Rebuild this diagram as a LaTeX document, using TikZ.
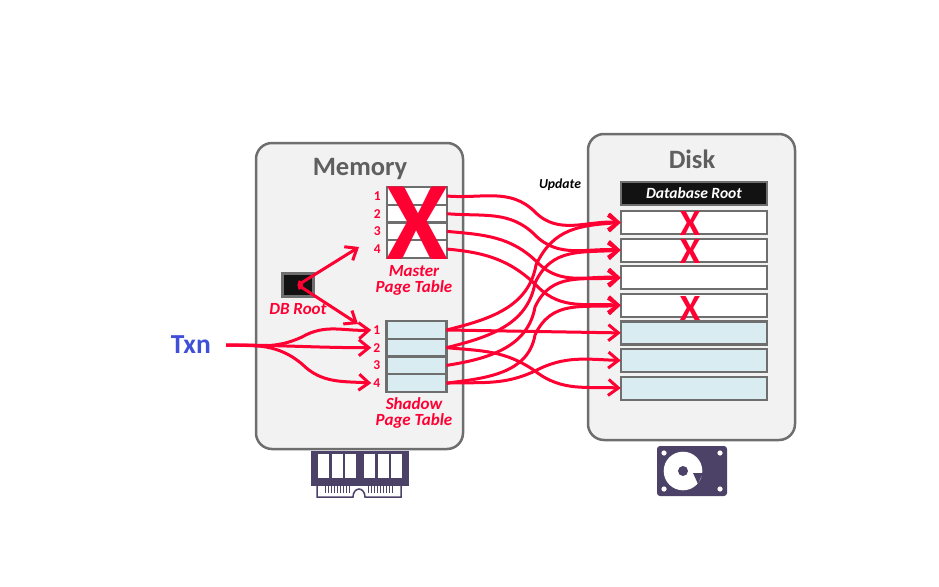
\documentclass[tikz,border=0pt]{standalone}
\usepackage{fontspec}
\setmainfont{Carlito}
\usetikzlibrary{arrows.meta, positioning}
\definecolor{pgred}{HTML}{FF0033}
\definecolor{pggray}{HTML}{6E6E6E}
\definecolor{pgtitle}{HTML}{5F5F5F}
\definecolor{pgblue}{HTML}{D8ECF2}
\definecolor{pgicon}{HTML}{4C4267}
\definecolor{pgtxn}{HTML}{3F4FD8}
\tikzset{
  pgarrow/.style={draw=pgred, line width=3pt, -{Straight Barb[length=10pt, width=16pt, line width=3pt]}},
  rootarrow/.style={pgarrow, {Circle[length=6pt]}-{Straight Barb[length=10pt, width=16pt, line width=3pt]}},
  pgbox/.style={draw=pggray, line width=2.5pt, fill=black!5, rounded corners=16pt, minimum width=207pt, minimum height=306pt, outer sep=0pt},
  pgtitlenode/.style={text=pgtitle, font=\fontsize{26.5}{26.5}\selectfont\bfseries},
  pgrow/.style={draw=pggray, line width=2.2pt, fill=white, minimum width=60pt, minimum height=17.7pt, inner sep=0pt, outer sep=0pt},
  pgshadow/.style={pgrow, fill=pgblue},
  diskrow/.style={pgrow, minimum width=146.5pt, minimum height=23pt},
  diskshadow/.style={diskrow, fill=pgblue},
  pgnum/.style={text=pgred, inner sep=2pt, font=\fontsize{13.5}{13.5}\selectfont\bfseries},
  pglabel/.style={text=pgred, align=center, inner sep=0pt, font=\fontsize{17}{16}\selectfont\bfseries\itshape},
  bigx/.style={text=pgred, inner sep=0pt, font=\fontsize{37}{37}\selectfont\bfseries},
}

\begin{document}
\begin{tikzpicture}[x=1pt, y=-1pt]
  \useasboundingbox (0,0) rectangle (939,586);

  % Containers.
  \node[pgbox] (memory) at (359.5,296) {};
  \node[pgbox] (disk) at (691.5,287) {};
  \node[pgtitlenode] (memtitle) at (360,169) {Memory};
  \node[pgtitlenode] (disktitle) at (692,159) {Disk};

  % Master page table.
  \node[pgrow] (m1) at (417,196) {};
  \node[pgrow, below=0pt of m1] (m2) {};
  \node[pgrow, below=0pt of m2] (m3) {};
  \node[pgrow, below=0pt of m3] (m4) {};
  \node[pgnum, left=4pt of m1] (mn1) {1};
  \node[pgnum, left=4pt of m2] (mn2) {2};
  \node[pgnum, left=4pt of m3] (mn3) {3};
  \node[pgnum, left=4pt of m4] (mn4) {4};
  \node[pglabel] (mlabel) at (414,280) {Master\\Page Table};

  % Shadow page table.
  \node[pgshadow] (s1) at (416.5,330) {};
  \node[pgshadow, below=0pt of s1] (s2) {};
  \node[pgshadow, below=0pt of s2] (s3) {};
  \node[pgshadow, below=0pt of s3] (s4) {};
  \node[pgnum, left=4pt of s1] (sn1) {1};
  \node[pgnum, left=4pt of s2] (sn2) {2};
  \node[pgnum, left=4pt of s3] (sn3) {3};
  \node[pgnum, left=4pt of s4] (sn4) {4};
  \node[pglabel] (slabel) at (414,413) {Shadow\\Page Table};

  % DB root.
  \node[draw=pggray, line width=2.4pt, fill=black!93, minimum width=31pt, minimum height=23pt, inner sep=0pt] (dbroot) at (298,285) {};
  \node[pglabel] (dblabel) at (298,309) {DB Root};

  % Disk pages.
  \node[diskrow, fill=black!93, text=white, font=\fontsize{15.6}{15.6}\selectfont\bfseries\itshape] (d0) at (694,193.5) {Database Root};
  \node[diskrow] (d1) at (694,222.5) {};
  \node[diskrow, below=4.6pt of d1] (d2) {};
  \node[diskrow, below=4.6pt of d2] (d3) {};
  \node[diskrow, below=4.6pt of d3] (d4) {};
  \node[diskshadow, below=4.6pt of d4] (d5) {};
  \node[diskshadow, below=4.6pt of d5] (d6) {};
  \node[diskshadow, below=4.6pt of d6] (d7) {};
  \node[font=\fontsize{13.7}{13.7}\selectfont\bfseries\itshape] (update) at (560,185) {Update};

  % Txn.
  \node[text=pgtxn, inner xsep=15pt, anchor=east, font=\fontsize{27.5}{27.5}\selectfont\bfseries] (txn) at (226,345) {Txn};

  % Kinks where the curves change direction.
  \coordinate (k1) at (535,212);
  \coordinate (k2) at (535,235);
  \coordinate (k3) at (538,263);
  \coordinate (k4) at (538,287);
  \coordinate (k5) at (536,265);
  \coordinate (k6) at (535,283);
  \coordinate (k7) at (535,307);
  \coordinate (k8) at (535,335);
  \coordinate (k9) at (535,371);
  \coordinate (k10) at (302,337);
  \coordinate (k11) at (302,364);
  \coordinate (rootm) at (359,247);
  \coordinate (roots) at (358,324);

  % Edges.
  \foreach \src/\knk/\dst in {m1/k1/d1, m2/k2/d2, m3/k3/d3, m4/k4/d4}
    \draw[pgarrow] (\src.east) to[out=-5, in=135] (\knk) to[out=-45, in=176] (\dst.west);
  \foreach \src/\knk/\dst/\ang in {s1/k5/d1/14, s2/k6/d2/14, s3/k7/d3/9, s4/k8/d4/7}
    \draw[pgarrow] (\src.east) to[out=\ang, in=-100] (\knk) to[out=65, in=184, looseness=1.1] (\dst.west);
  \draw[pgarrow] (s1.east) -- (d5.west);
  \draw[pgarrow] (s4.east) to[out=2, in=-155] (k9) to[out=28, in=178] (d6.west);
  \draw[pgarrow] (s2.east) to[out=-5, in=145] (k9) to[out=-38, in=177] (d7.west);

  \draw[pgarrow] (txn.east) to[out=0, in=-155] (k10) to[out=30, in=183] (sn1.west);
  \draw[pgarrow] (txn.east) to[out=0, in=180] (sn2.west);
  \draw[pgarrow] (txn.east) to[out=0, in=140] (k11) to[out=-45, in=176] (sn4.west);
  \draw[rootarrow] (dbroot.center) -- (rootm);
  \draw[rootarrow] (dbroot.center) -- (roots);

  % Crosses.
  \node[bigx, font=\fontsize{112}{112}\selectfont\bfseries] (mx) at (417,223) {X};
  \node[bigx] (x1) at (690,224) {X};
  \node[bigx] (x2) at (690,252) {X};
  \node[bigx] (x4) at (690,308) {X};

  % Memory icon.
  \fill[pgicon] (311,451) rectangle (409,486);
  \foreach \wx in {318,332,345,364,378,391}
    \fill[white] (\wx,454) rectangle (\wx+10.5,478);
  \draw[pgicon, line width=1.5pt] (317,486) -- (317,497) -- (353,497) arc[start angle=180, end angle=0, x radius=6pt, y radius=8pt] -- (401,497) -- (401,486);
  \foreach \wx in {325,328,331,334,337,340,343,346,349,368,371,374,377,380,383,386,389,392}
    \draw[pgicon, line width=1pt] (\wx,486) -- (\wx,493);

  % Disk icon.
  \fill[pgicon, rounded corners=3pt] (657,446) rectangle (727,496);
  \foreach \hx/\hy in {664/453, 720/453, 664/489, 720/489}
    \fill[white] (\hx,\hy) circle[radius=2.6pt];
  \fill[white] (683,471) circle[radius=19.3pt];
  \fill[pgicon] (683,471) circle[radius=5pt];
  \fill[pgicon] (693,473) -- (703,473) -- (698,484) -- cycle;
\end{tikzpicture}
\end{document}
